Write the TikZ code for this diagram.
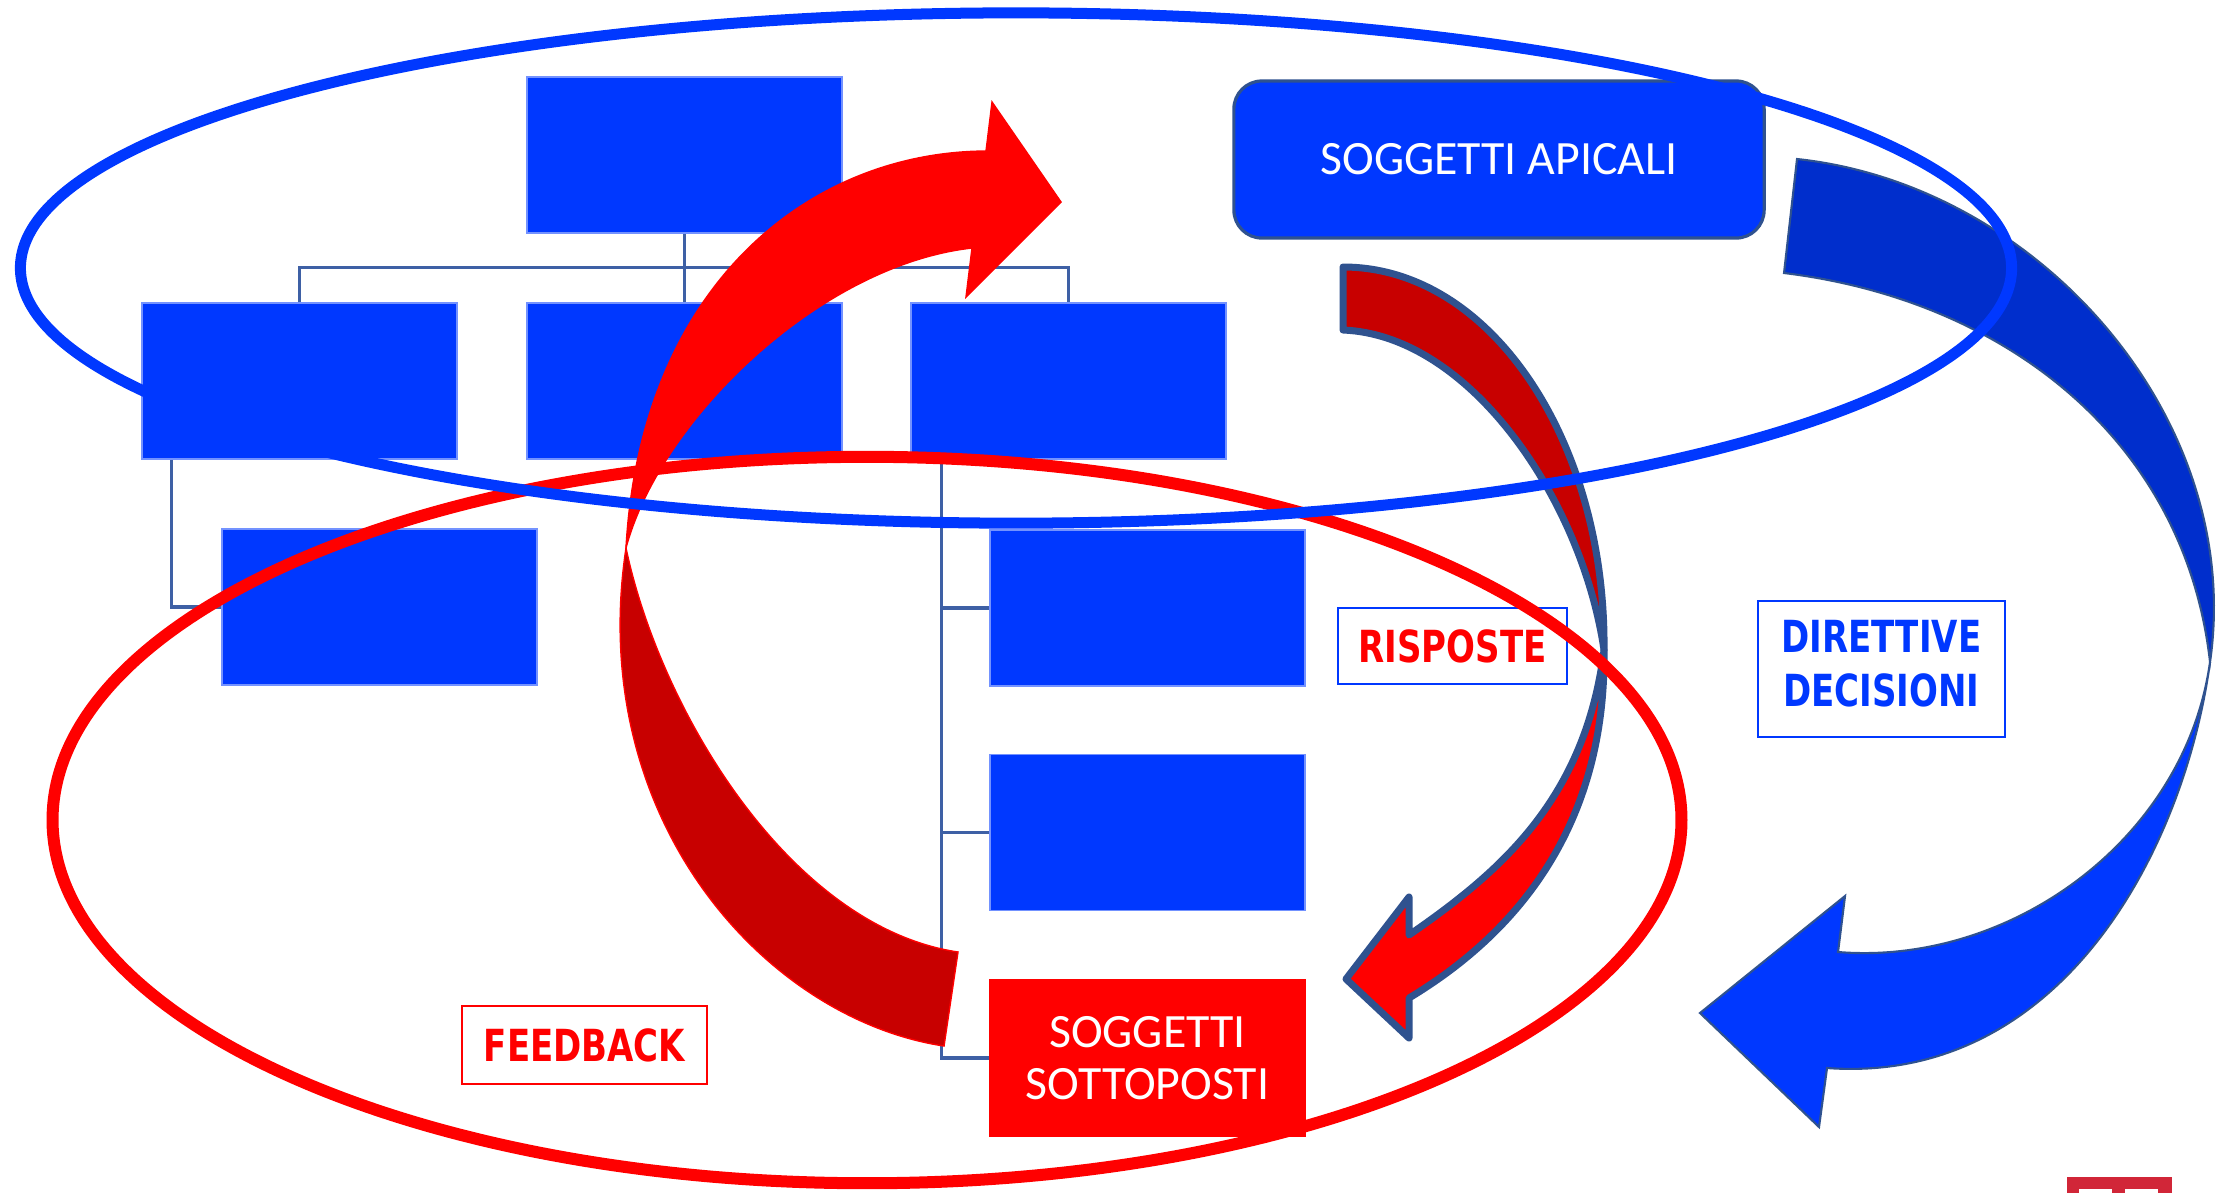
\documentclass[tikz,border=0pt]{standalone}
\usepackage{fontspec}
\setmainfont{Carlito}
\newfontfamily\lab{DejaVu Sans}
\usetikzlibrary{calc}
\definecolor{orgblue}{RGB}{0,56,255}
\definecolor{boxline}{RGB}{47,82,143}
\definecolor{connc}{RGB}{62,96,165}
\definecolor{darkred}{RGB}{200,0,0}
\definecolor{darkblue}{RGB}{0,46,204}
\definecolor{logored}{RGB}{209,38,56}
\newcommand{\tallt}[1]{\scalebox{1}[1.3]{#1}}
\begin{document}
\begin{tikzpicture}[x=0.01cm,y=-0.01cm,
  orgbox/.style={rectangle, fill=orgblue, draw=orgblue!55!white, line width=0.4pt, inner sep=0pt,
    minimum width=3.15cm, minimum height=1.56cm},
  conn/.style={draw=connc, line width=0.9pt},
  subjtext/.style={text=white, font=\fontsize{13.6}{14.8}\selectfont, align=center},
  lbl/.style={rectangle, line width=0.6pt, inner sep=0pt, align=center,
    font=\lab\bfseries\fontsize{9.67}{11.8}\selectfont},
  backred/.style={fill=darkred, draw=red, line width=0.4pt},
  frontred/.style={fill=red, draw=red, line width=0.4pt},
  rispback/.style={fill=darkred, draw=boxline, line width=0.07cm, line join=round},
  rispfront/.style={fill=red, draw=boxline, line width=0.07cm, line join=round},
  dirback/.style={fill=darkblue, draw=boxline, line width=0.6pt},
  dirfront/.style={fill=orgblue, draw=boxline, line width=0.6pt}
]
\useasboundingbox (0,0) rectangle (2222,1193);
\fill[white] (0,0) rectangle (2222,1193);

% org chart
\node[orgbox] (top) at (684.5,155) {};
\node[orgbox] (l1) at (299.5,381) {};
\node[orgbox] (m1) at (684.5,381) {};
\node[orgbox] (r1) at (1068.5,381) {};
\node[orgbox] (lc) at (379.5,607) {};
\node[orgbox] (c1) at (1147.5,608) {};
\node[orgbox] (c2) at (1147.5,832.5) {};
\node[orgbox, fill=red, draw=red, subjtext] (c3) at (1147.5,1058) {SOGGETTI\\SOTTOPOSTI};

\draw[conn] (top.south) -- (m1.north);
\draw[conn] (l1.north) -- ++(0,-35) -| (r1.north);
\draw[conn] ($(l1.south west)+(30,0)$) |- (lc.west);
\coordinate (rb) at ($(r1.south west)+(31,0)$);
\draw[conn] (rb) |- (c3.west);
\draw[conn] (c1.west) -- (c1.west -| rb);
\draw[conn] (c2.west) -- (c2.west -| rb);

% apical box
\node[rectangle, rounded corners=0.28cm, fill=orgblue, draw=boxline, line width=0.9pt,
  minimum width=5.3cm, minimum height=1.57cm, subjtext] (ap) at (1499,159.5) {SOGGETTI APICALI};

% DIRETTIVE arrow (blue)
\path[dirback] (1797,159) .. controls (2040,185) and (2245,420) .. (2210,662)
  .. controls (2185,440) and (2005,300) .. (1784,273) -- cycle;
\path[dirfront] (2210,662) .. controls (2184,852) and (2060,1085) .. (1827,1068)
  -- (1819,1127) -- (1700,1013) -- (1845,896) -- (1838,952)
  .. controls (2010,966) and (2185,840) .. (2210,662) -- cycle;

% RISPOSTE arrow
\path[rispback] (1343,267) .. controls (1490,267) and (1606,440) .. (1604,650)
  .. controls (1582,500) and (1470,335) .. (1343,330) -- cycle;
\path[rispfront] (1604,650) .. controls (1606,805) and (1537,921) .. (1409,998)
  -- (1409,1038) -- (1346,979) -- (1409,897) -- (1409,935)
  .. controls (1500,872) and (1585,800) .. (1604,650) -- cycle;

% FEEDBACK arrow (red)
\coordinate (W) at (626,548);
\path[backred] (W) .. controls (585,820) and (766,1019) .. (944,1046)
  -- (958,952) .. controls (790,927) and (660,710) .. (W) -- cycle;
\path[frontred] (W) .. controls (660,420) and (820,265) .. (972,248)
  -- (966,297) -- (1061,202) -- (992,102) -- (986,151)
  .. controls (805,152) and (640,290) .. (W) -- cycle;

% labels
\node[lbl, draw=orgblue, text=red, minimum width=2.29cm, minimum height=0.76cm] (risp) at (1452.5,646) {\tallt{RISPOSTE}};
\node[lbl, draw=red, text=red, minimum width=2.45cm, minimum height=0.78cm] (feed) at (584.5,1045) {\tallt{FEEDBACK}};
\node[lbl, draw=orgblue, text=orgblue, minimum width=2.47cm, minimum height=1.36cm] (dir) at (1881.5,669)
  {\tallt{\begin{tabular}{@{}c@{}}DIRETTIVE\\DECISIONI\end{tabular}}};

% ellipses
\draw[red, line width=0.12cm] (867,820) ellipse [x radius=8.14cm, y radius=3.63cm];
\draw[orgblue, line width=0.11cm] (1016,268) ellipse [x radius=9.95cm, y radius=2.55cm];

% logo fragment
\fill[logored] (2067,1177) rectangle (2172,1193);
\fill[white] (2079,1189) rectangle (2112,1193);
\fill[white] (2125,1189) rectangle (2158,1193);
\end{tikzpicture}
\end{document}
